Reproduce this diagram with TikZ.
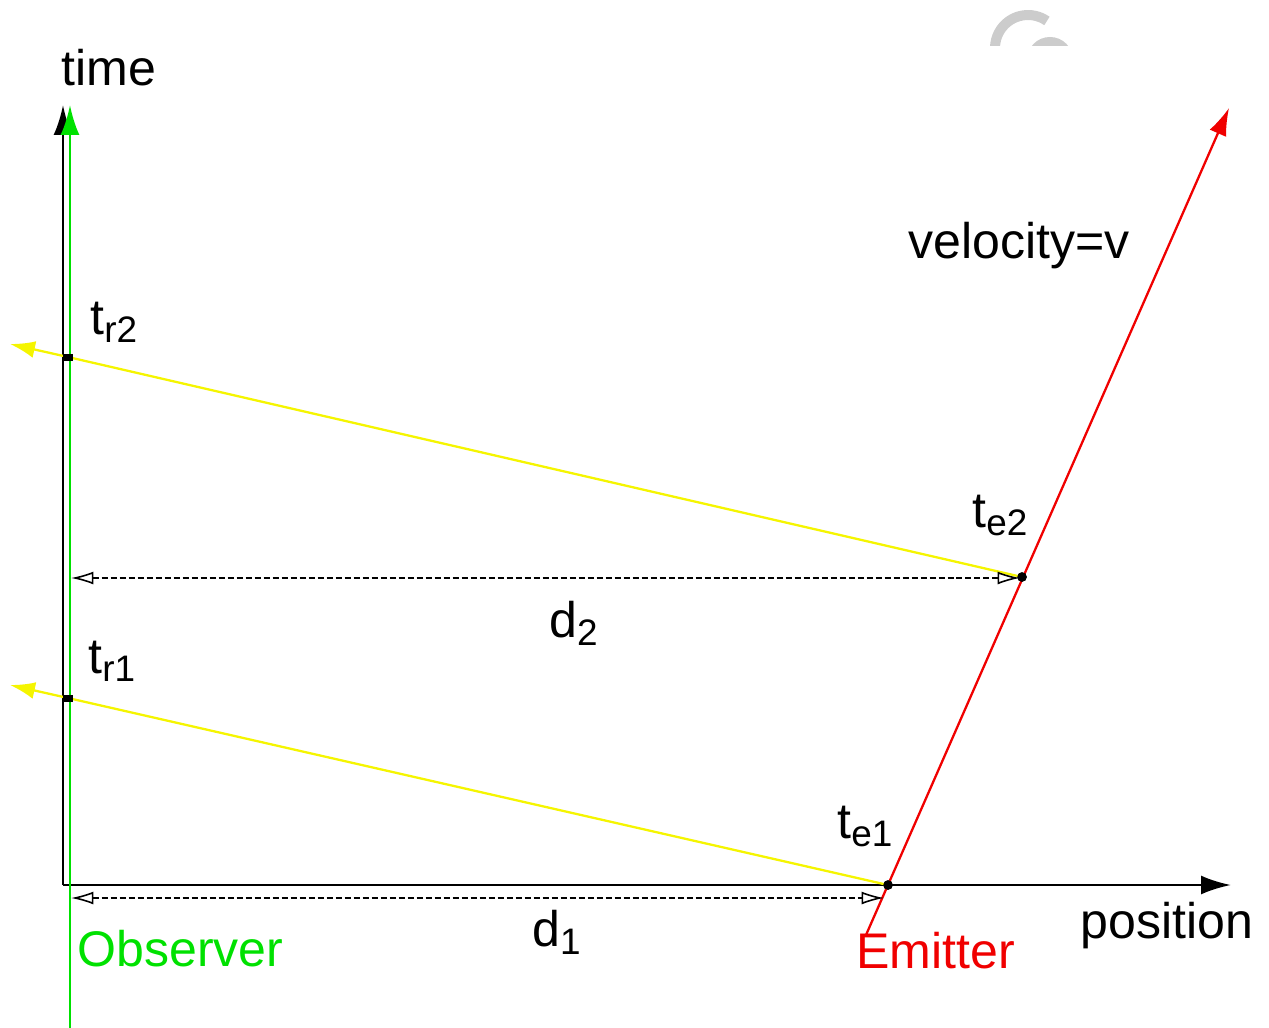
\documentclass[tikz,border=0pt]{standalone}
\usepackage{fontspec}
\setmainfont{Liberation Sans}
\usetikzlibrary{arrows.meta}
\definecolor{obsgreen}{RGB}{0,225,0}
\definecolor{emitred}{RGB}{240,0,0}
\definecolor{rayyellow}{RGB}{245,245,0}
\newcommand{\tlab}[2]{#1\raisebox{-0.16em}{\fontsize{21}{21}\selectfont #2}}
\tikzset{
	axis/.style={line width=1.6pt,-{Latex[length=0.6cm,width=0.38cm]}},
	ray/.style={rayyellow,line width=1.3pt,-{Latex[length=0.5cm,width=0.34cm]}},
	dim/.style={line width=0.9pt,dash pattern=on 0.12cm off 0.06cm,{Latex[open,length=0.45cm,width=0.26cm]}-{Latex[open,length=0.45cm,width=0.26cm]}},
	edot/.style={circle,fill=black,inner sep=0pt,minimum size=0.19cm},
	rdot/.style={rectangle,fill=black,inner sep=0pt,minimum width=0.2cm,minimum height=0.14cm},
	lab/.style={anchor=base west,inner sep=0pt,font=\fontsize{28.5}{30}\selectfont}
}
\begin{document}
\begin{tikzpicture}[x=0.02cm,y=-0.02cm]
	\useasboundingbox (0,0) rectangle (1269,1028);
	% watermark
	\begin{scope}
		\clip (980,0) rectangle (1090,45);
		\draw[black!20,line width=0.2cm] (1028,48) ++(55:0.66cm) arc[start angle=55,end angle=200,radius=0.66cm];
		\draw[black!20,line width=0.2cm] (1050,60) circle[radius=0.36cm];
	\end{scope}
	% axes
	\coordinate (origin) at (63,885);
	\coordinate (ttop) at (63,105);
	\coordinate (xend) at (1231,885);
	\draw[axis] (origin) -- (ttop);
	\draw[axis] (origin) -- (xend);
	% observer and emitter
	\coordinate (obot) at (70,1028);
	\coordinate (otop) at (70,105);
	\draw[obsgreen,axis] (obot) -- (otop);
	\coordinate (ebot) at (866,935);
	\coordinate (etop) at (1229,108);
	\draw[emitred,line width=1.3pt,-{Latex[length=0.55cm,width=0.36cm]}] (ebot) -- (etop);
	% events
	\node[edot] (e1) at (888,885) {};
	\node[edot] (e2) at (1022,577) {};
	\node[rdot] (r1) at (68,698) {};
	\node[rdot] (r2) at (68,357) {};
	\coordinate (l1) at (10,685);
	\coordinate (l2) at (10,344);
	\draw[ray] (e1.center) -- (r1.center) -- (l1);
	\draw[ray] (e2.center) -- (r2.center) -- (l2);
	\node[edot] at (e1) {};
	\node[edot] at (e2) {};
	\node[rdot] at (r1) {};
	\node[rdot] at (r2) {};
	% distances
	\coordinate (d1a) at (71,898);
	\coordinate (d1b) at (884,898);
	\coordinate (d2a) at (71,578);
	\coordinate (d2b) at (1020,578);
	\draw[dim] (d1a) -- (d1b);
	\draw[dim] (d2a) -- (d2b);
	% labels
	\node[lab] (time) at (61,85) {time};
	\node[lab] (pos) at (1080,938) {position};
	\node[lab,obsgreen] (obs) at (77,966) {Observer};
	\node[lab,emitred] (emit) at (856,968) {Emitter};
	\node[lab] (vel) at (908,258) {velocity=v};
	\node[lab] (tr2) at (90,334) {\tlab{t}{r2}};
	\node[lab] (tr1) at (88,673) {\tlab{t}{r1}};
	\node[lab] (te2) at (972,527) {\tlab{t}{e2}};
	\node[lab] (te1) at (837,838) {\tlab{t}{e1}};
	\node[lab] (d2) at (549,637) {\tlab{d}{2}};
	\node[lab] (d1) at (532,946) {\tlab{d}{1}};
\end{tikzpicture}
\end{document}
